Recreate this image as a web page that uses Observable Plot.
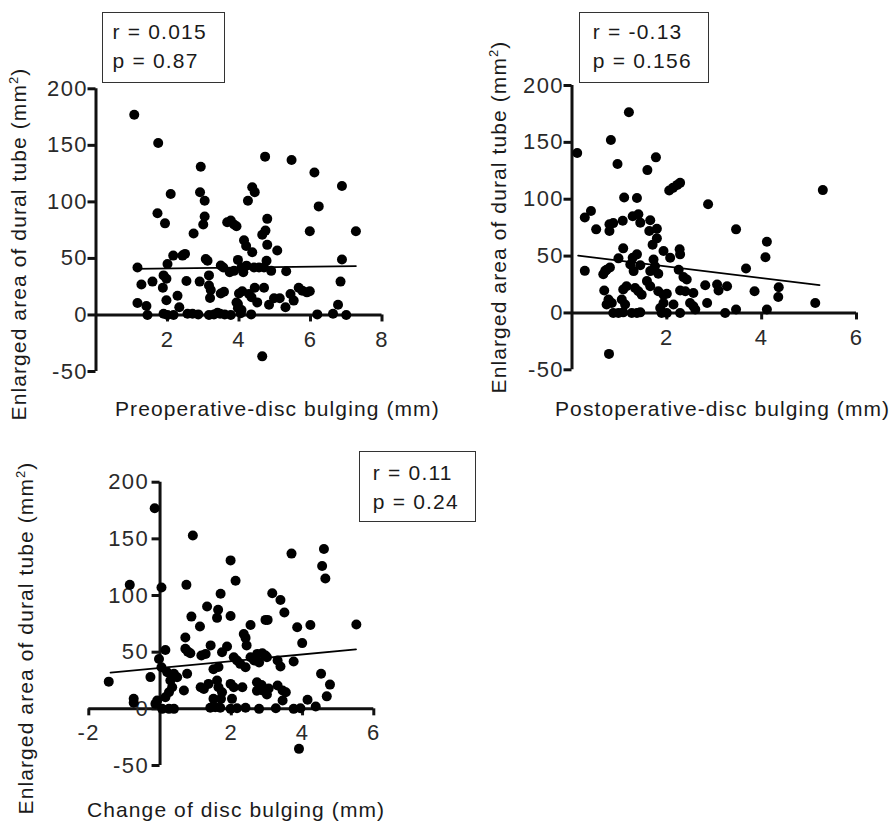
<!DOCTYPE html>
<html><head><meta charset="utf-8">
<script src="https://cdn.jsdelivr.net/npm/d3@7"></script>
<script src="https://cdn.jsdelivr.net/npm/@observablehq/plot@0.6"></script>
<style>
body{margin:0;background:#fff;}
#wrap{position:relative;width:891px;height:823px;overflow:hidden;font-family:"Liberation Sans",Arial,sans-serif;color:#1a1a1a;background:#fff;}
.panel{position:absolute;}
#wrap svg text{font-size:22px;letter-spacing:1.4px;}
.box{position:absolute;border:1.5px solid #333;box-sizing:border-box;font-size:21px;letter-spacing:1.2px;line-height:29px;white-space:nowrap;background:#fff;}
.xt{position:absolute;font-size:21px;letter-spacing:1.1px;line-height:21px;white-space:nowrap;}
.yt{position:absolute;font-size:21px;letter-spacing:1.1px;line-height:21px;white-space:nowrap;transform:translate(-50%,-50%) rotate(-90deg);}
sup{font-size:0.62em;line-height:0;vertical-align:0.55em;}
</style></head>
<body>
<div id="wrap"></div>
<script>
// ---- data ----
const yTicks = [-50, 0, 50, 100, 150, 200];
const preXTicks = [2, 4, 6, 8];
const postXTicks = [2, 4, 6];
const chgXTicks = [-2, 2, 4, 6];

const preX = [1.07,1.74,4.73,5.47,2.93,6.11,6.88,4.37,4.44,2.09,2.91,3.04,4.25,6.23,1.72,3.04,4.79,1.93,3.0,3.67,3.77,3.86,3.93,5.98,7.27,2.73,4.74,4.65,4.14,4.2,4.79,4.37,5.07,2.49,2.42,2.16,2.0,3.07,3.12,3.97,4.77,6.88,1.16,3.49,3.56,4.07,4.21,4.42,4.56,4.7,3.74,3.86,4.12,4.9,5.32,3.16,1.89,1.97,1.58,1.27,2.53,2.9,6.84,3.16,3.21,1.87,3.49,3.58,4.0,4.09,4.28,4.35,4.44,4.7,5.67,5.77,5.9,5.98,5.44,5.53,2.28,1.97,3.19,4.51,3.93,3.97,3.97,4.98,5.14,4.84,5.3,1.16,1.41,2.33,6.77,4.07,1.44,1.89,2.0,2.17,2.56,2.7,2.86,3.16,3.3,3.4,3.47,3.6,3.77,4.05,4.34,6.19,6.63,7.0,4.65];
const preY = [177,152,140,137,131,126,114,113,108.6,107,108.5,101,101,96,90,87,85,81,80,82,83.5,80,78.5,74,74,72,74.6,71,66,61,62,55.5,57,54,52.5,52.5,45,49.5,48,48.7,48,49,42,43.7,42,42,43.6,42,42,42,37.8,39,37.7,39,38.6,35,35,32,29.5,27,30,29.5,29.5,26,22,24,19,20.6,19,20.9,18.6,15.6,24,24,24,21.5,20,21,18.6,12.7,17,13,15,11.1,11,9.7,6,14.7,14.7,9,6.8,10.6,8,6.8,9,4.4,0,1,0,0,1,1,0.5,0,0.5,2,1,0.5,0,1.5,0.5,0.5,1,0,-36.6];
const preFitX = [1.07, 7.27];
const preFitY = [40.8, 43.2];

const postX = [1.2,0.82,0.11,1.77,0.96,1.59,2.05,2.13,2.22,2.28,5.29,2.87,1.1,1.37,0.27,0.4,0.51,0.79,0.87,0.79,1.07,1.28,1.4,1.44,1.65,1.79,1.63,1.79,1.7,3.46,4.11,4.08,3.67,0.27,1.08,1.93,2.07,2.27,2.28,0.66,0.7,0.8,0.73,0.98,1.28,1.37,1.23,1.3,1.44,1.72,1.75,1.65,1.82,1.58,1.65,1.15,1.33,1.4,1.47,1.08,1.82,1.93,2.0,2.25,2.35,2.42,2.28,2.39,2.56,2.81,3.06,3.09,3.27,3.85,4.36,4.35,2.85,5.13,0.68,0.77,0.84,0.73,1.05,1.12,1.93,1.86,2.14,2.49,2.56,2.6,0.87,0.98,1.08,1.26,1.37,1.44,1.89,2.0,2.28,3.23,3.46,4.11,0.78];
const postY = [176.5,152,140.6,136.8,131,125.6,107.6,110,112.6,114.4,108,95.6,101.5,101,84,89.7,73.5,78,79,72,81,85,86.8,79.4,81.5,74,72,65.6,60,73.5,62.6,49,39,37,56.8,54.4,48.5,56,51.5,34,37,40,38,48,48.5,51.5,42.6,36.8,42,47,41,36.8,34.4,28,23.5,23.5,22,19,16,20.6,19,16,16.8,38,31.5,29.4,19.7,19,17.6,24.4,25,19.7,23.5,19,22.6,14,8.8,8.8,19.7,11.8,8.8,7.4,11.8,7.4,8.8,4.4,7.4,8.8,5.9,3,0,0,0.5,0,0,0.5,0,0,0,0,3,3,-36];
const postFitX = [0.13, 5.22];
const postFitY = [50.4, 24.4];

const chgX = [-0.15,0.92,4.6,3.69,1.98,4.55,4.64,2.12,-0.85,0.04,0.74,1.7,3.15,3.38,3.49,1.32,1.63,1.6,0.88,1.98,1.12,2.54,2.96,3.02,3.85,4.22,5.51,1.42,0.71,2.35,2.4,2.43,3.99,0.15,0.71,0.85,0.78,1.16,1.28,1.74,1.88,2.07,-0.03,2.73,2.87,2.96,3.0,2.54,2.64,2.78,2.16,2.25,2.4,3.3,3.38,3.75,1.5,1.64,0.04,0.2,0.39,0.48,0.29,0.34,0.25,0.15,-0.27,-1.44,0.76,0.67,1.14,1.23,1.36,1.6,1.64,1.74,1.71,1.5,1.98,2.07,2.31,2.02,2.72,2.81,2.72,2.9,3.0,2.85,3.05,3.3,3.44,3.53,3.44,4.52,4.77,4.68,4.14,4.37,-0.74,-0.74,-0.08,-0.13,0.06,0.25,0.39,1.41,1.55,1.69,1.98,2.16,2.4,2.78,3.25,3.75,3.94,3.9];
const chgY = [177,153,141,137,131,126,115,113,109.4,107,109.4,101.5,102,96,85,90.3,87.4,80.3,81.4,82,72.6,74,78.5,78.5,72,74,74.4,56,63,66,62.6,56,58,52,53,49,50.5,47,48.5,50,55,45.5,44,48.5,49,47,45.5,45.5,42.6,41,42.6,39.7,36.7,42.6,37.3,41.7,35,37,36.7,32.3,30.9,27.9,25,19,14.6,10.2,28,24,31,16.2,19,17.6,22,25,19,14.7,8.8,8.8,22,19,19,8.8,23.5,19,16,16,12.6,21,18,20.6,16.2,14.6,7.3,31,21.4,11,8,2,8.8,5.3,7.3,4.4,0,0,0,1,1.5,1,0,0.5,1,0,0.5,0,0.5,-35.3];
const chgFitX = [-1.39, 5.5];
const chgFitY = [32, 52.5];

const stats = [["r = 0.015", "p = 0.87"], ["r = -0.13", "p = 0.156"], ["r = 0.11", "p = 0.24"]];
const xTitles = ["Preoperative-disc bulging (mm)", "Postoperative-disc bulging (mm)", "Change of disc bulging (mm)"];
const yTitle = "Enlarged area of dural tube (mm<sup>2</sup>)";

const wrap = document.getElementById("wrap");
const yDomain = [-50, 200];
const FONT = '"Liberation Sans", Arial, sans-serif';

function panel(cfg) {
  const {xs, ys, fx, fy, xDomain, xTicks, left, top, width, height, mL, mR, mT, mB, yPad} = cfg;
  const data = xs.map((x, i) => ({x, y: ys[i]}));
  const fit = fx.map((x, i) => ({x, y: fy[i]}));
  const innerH = height - mT - mB;
  const innerW = width - mL - mR;
  const y0off = (0 - yDomain[0]) / (yDomain[1] - yDomain[0]) * innerH;
  const x0off = (0 - xDomain[0]) / (xDomain[1] - xDomain[0]) * innerW;
  const svg = Plot.plot({
    width, height, marginLeft: mL, marginRight: mR, marginTop: mT, marginBottom: mB,
    x: {domain: xDomain}, y: {domain: yDomain},
    style: {fontFamily: FONT, fontSize: "22px", color: "#1a1a1a", background: "transparent", overflow: "visible"},
    marks: [
      Plot.ruleY([0], {strokeWidth: 3, stroke: "#111"}),
      Plot.ruleX([0], {strokeWidth: 3, stroke: "#111"}),
      Plot.axisX(xTicks, {anchor: "bottom", dy: -y0off, tickSize: 7, tickPadding: 9, strokeWidth: 3, stroke: "#111", tickFormat: d => String(d), label: null, fill: "#2a2a2a", fontSize: 22, fontFamily: FONT}),
      Plot.axisY(yTicks, {anchor: "left", dx: x0off, tickSize: 8, tickPadding: yPad, strokeWidth: 3, stroke: "#111", tickFormat: d => String(d), label: null, fill: "#2a2a2a", fontSize: 22, fontFamily: FONT}),
      Plot.dot(data, {x: "x", y: "y", r: 5, fill: "#000"}),
      Plot.line(fit, {x: "x", y: "y", stroke: "#000", strokeWidth: 1.8})
    ]
  });
  const d = document.createElement("div");
  d.className = "panel";
  d.style.left = left + "px"; d.style.top = top + "px";
  d.appendChild(svg);
  wrap.appendChild(d);
}

panel({xs: preX, ys: preY, fx: preFitX, fy: preFitY, xDomain: [0, 8], xTicks: preXTicks, left: 0, top: 0, width: 445, height: 420, mL: 95.5, mR: 63.5, mT: 88.3, mB: 49, yPad: 0});
panel({xs: postX, ys: postY, fx: postFitX, fy: postFitY, xDomain: [0, 6], xTicks: postXTicks, left: 445, top: 0, width: 446, height: 420, mL: 126.5, mR: 35, mT: 85, mB: 50.7, yPad: 0});
panel({xs: chgX, ys: chgY, fx: chgFitX, fy: chgFitY, xDomain: [-2, 6], xTicks: chgXTicks, left: 0, top: 420, width: 500, height: 403, mL: 88.3, mR: 126.7, mT: 61.7, mB: 58, yPad: 3});

function addBox(i, left, top, w, h, pl, pt) {
  const b = document.createElement("div");
  b.className = "box";
  Object.assign(b.style, {left: left + "px", top: top + "px", width: w + "px", height: h + "px", paddingLeft: pl + "px", paddingTop: pt + "px"});
  b.innerHTML = stats[i].map(s => `<div>${s}</div>`).join("");
  wrap.appendChild(b);
}
addBox(0, 102, 12, 123, 71, 9.5, 4);
addBox(1, 579, 12, 130, 71, 12.8, 4);
addBox(2, 359, 451, 117, 71, 12.8, 5.7);

function addXT(i, left, top) {
  const t = document.createElement("div");
  t.className = "xt";
  t.style.left = left + "px"; t.style.top = top + "px";
  t.textContent = xTitles[i];
  wrap.appendChild(t);
}
addXT(0, 115, 397.5);
addXT(1, 555, 397.5);
addXT(2, 87, 799);

function addYT(cx, cy) {
  const t = document.createElement("div");
  t.className = "yt";
  t.style.left = cx + "px"; t.style.top = cy + "px";
  t.innerHTML = yTitle;
  wrap.appendChild(t);
}
addYT(18, 244);
addYT(498, 217);
addYT(25, 638);
</script>
</body></html>
